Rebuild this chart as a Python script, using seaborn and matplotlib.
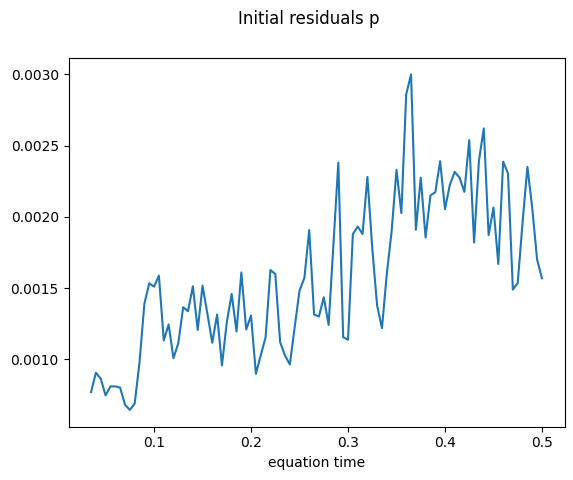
import numpy as np
import pandas as pd
import matplotlib
matplotlib.use('Agg')
import matplotlib.pyplot as plt
import seaborn as sns

# equation time steps (0.035 .. 0.5, step 0.005)
eq_time = np.round(np.arange(0.035, 0.5001, 0.005), 3)

# initial residuals of p
residual_p = [
    0.000771, 0.000907, 0.000865, 0.000748, 0.000811, 0.000811, 0.000802, 0.000683,
    0.000646, 0.000690, 0.000980, 0.001390, 0.001534, 0.001510, 0.001587, 0.001133,
    0.001245, 0.001009, 0.001114, 0.001366, 0.001338, 0.001513, 0.001207, 0.001517,
    0.001320, 0.001117, 0.001315, 0.000958, 0.001261, 0.001459, 0.001196, 0.001610,
    0.001210, 0.001308, 0.000900, 0.001028, 0.001156, 0.001627, 0.001599, 0.001121,
    0.001028, 0.000965, 0.001226, 0.001483, 0.001571, 0.001907, 0.001315, 0.001301,
    0.001436, 0.001242, 0.001810, 0.002380, 0.001156, 0.001138, 0.001879, 0.001932,
    0.001879, 0.002280, 0.001780, 0.001378, 0.001219, 0.001600, 0.001900, 0.002329,
    0.002026, 0.002858, 0.002998, 0.001909, 0.002275, 0.001855, 0.002150, 0.002172,
    0.002390, 0.002054, 0.002224, 0.002315, 0.002275, 0.002175, 0.002538, 0.001820,
    0.002392, 0.002620, 0.001872, 0.002065, 0.001669, 0.002387, 0.002303, 0.001490,
    0.001536, 0.001960, 0.002350, 0.002060, 0.001700, 0.001569,
]

df = pd.DataFrame({'equation time': eq_time, 'p': residual_p})

fig = plt.figure(figsize=(5.73, 4.8), dpi=100)
ax = fig.add_axes([68.5 / 573, 53.3 / 480, 496 / 573, 369 / 480])
sns.lineplot(data=df, x='equation time', y='p', ax=ax, color='#1f77b4')
ax.set_xlabel('equation time')
ax.set_ylabel('')
ax.set_yticks([0.0010, 0.0015, 0.0020, 0.0025, 0.0030])
ax.set_yticklabels(['0.0010', '0.0015', '0.0020', '0.0025', '0.0030'])
fig.suptitle('Initial residuals p', x=308.5 / 573)

plt.savefig('out.png', dpi=100)
plt.close()
